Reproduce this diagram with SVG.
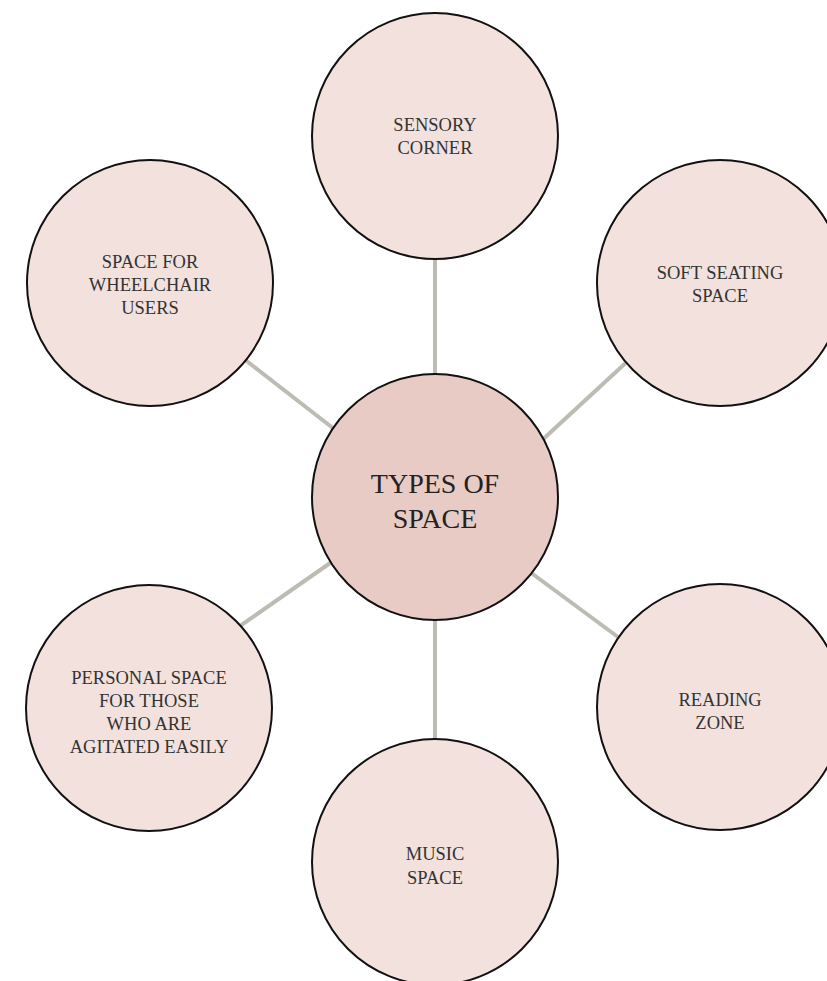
<svg xmlns="http://www.w3.org/2000/svg" width="827" height="981" viewBox="0 0 827 981">
<style>
.c{fill:#f2e1dd;stroke:#111;stroke-width:2}
.m{fill:#e8cbc5;stroke:#111;stroke-width:2}
.t{font-family:"Liberation Serif",serif;font-size:18.5px;fill:#333;text-anchor:middle}
.tm{font-family:"Liberation Serif",serif;font-size:28px;fill:#222;text-anchor:middle}
.l{stroke:#bcbcb4;stroke-width:4;fill:none}
</style>
<rect width="827" height="981" fill="#fff"/>
<g id="connectors">
<line class="l" x1="435" y1="250" x2="435" y2="382"/>
<line class="l" x1="244" y1="359" x2="338" y2="432"/>
<line class="l" x1="630" y1="359" x2="540" y2="442"/>
<line class="l" x1="240" y1="626" x2="333" y2="561"/>
<line class="l" x1="622" y1="640" x2="530" y2="572"/>
<line class="l" x1="435" y1="612" x2="435" y2="746"/>
</g>
<g id="center">
<circle class="m" cx="435" cy="497" r="123"/>
<text class="tm" x="435" y="493">TYPES OF</text>
<text class="tm" x="435" y="528">SPACE</text>
</g>
<g id="sensory">
<circle class="c" cx="435" cy="136" r="123"/>
<text class="t" x="435" y="131">SENSORY</text>
<text class="t" x="435" y="154">CORNER</text>
</g>
<g id="wheelchair">
<circle class="c" cx="150" cy="283" r="123"/>
<text class="t" x="150" y="268">SPACE FOR</text>
<text class="t" x="150" y="291">WHEELCHAIR</text>
<text class="t" x="150" y="314">USERS</text>
</g>
<g id="soft-seating">
<circle class="c" cx="720" cy="283" r="123"/>
<text class="t" x="720" y="279">SOFT SEATING</text>
<text class="t" x="720" y="302">SPACE</text>
</g>
<g id="personal">
<circle class="c" cx="149" cy="708" r="123"/>
<text class="t" x="149" y="684">PERSONAL SPACE</text>
<text class="t" x="149" y="707">FOR THOSE</text>
<text class="t" x="149" y="730">WHO ARE</text>
<text class="t" x="149" y="753">AGITATED EASILY</text>
</g>
<g id="reading">
<circle class="c" cx="720" cy="707" r="123"/>
<text class="t" x="720" y="706">READING</text>
<text class="t" x="720" y="729">ZONE</text>
</g>
<g id="music">
<circle class="c" cx="435" cy="862" r="123"/>
<text class="t" x="435" y="860">MUSIC</text>
<text class="t" x="435" y="884">SPACE</text>
</g>
</svg>
